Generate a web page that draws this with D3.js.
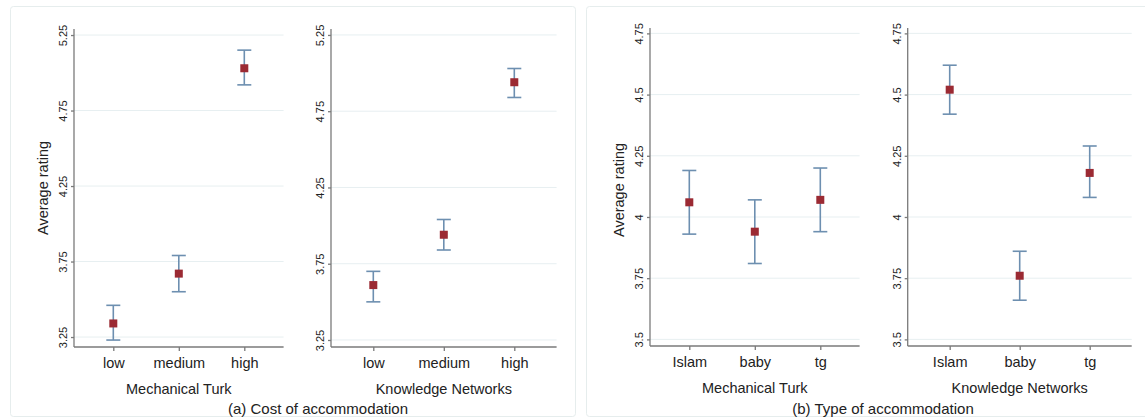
<!doctype html>
<html>
<head>
<meta charset="utf-8">
<title>Average rating by cost and type of accommodation</title>
<script src="https://d3js.org/d3.v7.min.js"></script>
<style>
    body { margin: 0; background: #fff; }
    svg { font-family: "Liberation Sans", Arial, sans-serif; }
    .grid line { stroke: #e7eff1; stroke-width: 1; }
    .axis path, .axis line { stroke: #7a7a7a; stroke-width: 1.3; fill: none; }
    .axis text { fill: #222; }
    .lbl { fill: #222; }
</style>
</head>
<body>
<div id="chart"></div>
<script>

// categories
const costCats = ["low", "medium", "high"];
const typeCats = ["Islam", "baby", "tg"];

// tick labels
const costTicks = [3.25, 3.75, 4.25, 4.75, 5.25];
const typeTicks = [3.5, 3.75, 4, 4.25, 4.5, 4.75];

// (a) cost of accommodation
const costMTMean = [3.34, 3.67, 5.03];
const costMTLow  = [3.23, 3.55, 4.92];
const costMTHigh = [3.46, 3.79, 5.15];

const costKNMean = [3.61, 3.94, 4.94];
const costKNLow  = [3.50, 3.84, 4.84];
const costKNHigh = [3.70, 4.04, 5.03];

// (b) type of accommodation
const typeMTMean = [4.06, 3.94, 4.07];
const typeMTLow  = [3.93, 3.81, 3.94];
const typeMTHigh = [4.19, 4.07, 4.20];

const typeKNMean = [4.52, 3.76, 4.18];
const typeKNLow  = [4.42, 3.66, 4.08];
const typeKNHigh = [4.62, 3.86, 4.29];

const w = 1145;
const h = 419;

const svg = d3.select("#chart")
    .append("svg")
    .attr("width", w)
    .attr("height", h);

// panel frames
svg.append("rect")
    .attr("x", 10.5).attr("y", 6.5)
    .attr("width", 565).attr("height", 410)
    .attr("rx", 3)
    .attr("fill", "none").attr("stroke", "#e6eded");
svg.append("rect")
    .attr("x", 586.5).attr("y", 6.5)
    .attr("width", 570).attr("height", 410)
    .attr("rx", 3)
    .attr("fill", "none").attr("stroke", "#e6eded");

function drawPlot(opt) {
    const cats = opt.cats;
    const rows = cats.map(function(c, i) {
        return { cat: c, mean: opt.mean[i], lo: opt.lo[i], hi: opt.hi[i] };
    });

    const xScale = d3.scaleLinear()
        .domain([0.4, 3.6])
        .range([opt.left, opt.right]);

    const yScale = d3.scaleLinear()
        .domain(opt.yDomain)
        .range([opt.bottom, opt.top]);

    const g = svg.append("g");

    // gridlines
    g.append("g")
        .attr("class", "grid")
        .selectAll("line")
        .data(opt.ticks)
        .enter()
        .append("line")
        .attr("x1", opt.left)
        .attr("x2", opt.right)
        .attr("y1", function(d) { return yScale(d); })
        .attr("y2", function(d) { return yScale(d); });

    // y axis
    const yAxis = d3.axisLeft(yScale)
        .tickValues(opt.ticks)
        .tickSize(3)
        .tickFormat(d3.format("~g"));

    const ya = g.append("g")
        .attr("class", "axis")
        .attr("transform", "translate(" + opt.left + ",0)")
        .call(yAxis);
    ya.select(".domain").attr("d", "M0," + opt.top + "V" + opt.bottom);
    ya.selectAll("text")
        .attr("transform", "rotate(-90)")
        .attr("x", 0)
        .attr("y", -7)
        .attr("dy", 0)
        .style("text-anchor", "middle")
        .style("font-size", "11px");

    // x axis
    const xAxis = d3.axisBottom(xScale)
        .tickValues([1, 2, 3])
        .tickSize(4)
        .tickPadding(7)
        .tickFormat(function(d) { return cats[d - 1]; });

    const xa = g.append("g")
        .attr("class", "axis")
        .attr("transform", "translate(0," + opt.bottom + ")")
        .call(xAxis);
    xa.select(".domain").attr("d", "M" + opt.left + ",0H" + opt.right);
    xa.selectAll("text").style("font-size", "14.5px");

    // axis title
    g.append("text")
        .attr("class", "lbl")
        .attr("x", xScale(2))
        .attr("y", opt.bottom + 47)
        .style("text-anchor", "middle")
        .style("font-size", "14.5px")
        .text(opt.title);

    if (opt.yTitle) {
        g.append("text")
            .attr("class", "lbl")
            .attr("transform", "translate(" + (opt.left - 26) + "," + opt.yTitleY + ") rotate(-90)")
            .style("text-anchor", "middle")
            .style("font-size", "14.5px")
            .text("Average rating");
    }

    // error bars
    const bars = g.selectAll(".ci")
        .data(rows)
        .enter()
        .append("g")
        .attr("class", "ci")
        .attr("stroke", "#6d8fb0")
        .attr("stroke-width", 1.6);

    bars.append("line")
        .attr("x1", function(d, i) { return xScale(i + 1); })
        .attr("x2", function(d, i) { return xScale(i + 1); })
        .attr("y1", function(d) { return yScale(d.lo); })
        .attr("y2", function(d) { return yScale(d.hi); });
    bars.append("line")
        .attr("x1", function(d, i) { return xScale(i + 1) - 7; })
        .attr("x2", function(d, i) { return xScale(i + 1) + 7; })
        .attr("y1", function(d) { return yScale(d.lo); })
        .attr("y2", function(d) { return yScale(d.lo); });
    bars.append("line")
        .attr("x1", function(d, i) { return xScale(i + 1) - 7; })
        .attr("x2", function(d, i) { return xScale(i + 1) + 7; })
        .attr("y1", function(d) { return yScale(d.hi); })
        .attr("y2", function(d) { return yScale(d.hi); });

    // markers
    g.selectAll(".pt")
        .data(rows)
        .enter()
        .append("rect")
        .attr("class", "pt")
        .attr("x", function(d, i) { return xScale(i + 1) - 4; })
        .attr("y", function(d) { return yScale(d.mean) - 4; })
        .attr("width", 8)
        .attr("height", 8)
        .attr("fill", "#9b2a33");
}

drawPlot({
    cats: costCats, mean: costMTMean, lo: costMTLow, hi: costMTHigh,
    ticks: costTicks, yDomain: [3.184, 5.29],
    left: 74, right: 283.6, top: 29, bottom: 347,
    title: "Mechanical Turk", yTitle: true, yTitleY: 188
});

drawPlot({
    cats: costCats, mean: costKNMean, lo: costKNLow, hi: costKNHigh,
    ticks: costTicks, yDomain: [3.204, 5.289],
    left: 331, right: 556.6, top: 29, bottom: 347,
    title: "Knowledge Networks", yTitle: false
});

drawPlot({
    cats: typeCats, mean: typeMTMean, lo: typeMTLow, hi: typeMTHigh,
    ticks: typeTicks, yDomain: [3.473, 4.772],
    left: 650, right: 859.6, top: 28, bottom: 346,
    title: "Mechanical Turk", yTitle: true, yTitleY: 190
});

drawPlot({
    cats: typeCats, mean: typeKNMean, lo: typeKNLow, hi: typeKNHigh,
    ticks: typeTicks, yDomain: [3.473, 4.772],
    left: 907.7, right: 1131.7, top: 28, bottom: 346,
    title: "Knowledge Networks", yTitle: false
});

// captions
svg.append("text")
    .attr("class", "lbl")
    .attr("x", 318)
    .attr("y", 414)
    .style("text-anchor", "middle")
    .style("font-size", "15px")
    .text("(a) Cost of accommodation");

svg.append("text")
    .attr("class", "lbl")
    .attr("x", 883)
    .attr("y", 414)
    .style("text-anchor", "middle")
    .style("font-size", "15px")
    .text("(b) Type of accommodation");

</script>
</body>
</html>
